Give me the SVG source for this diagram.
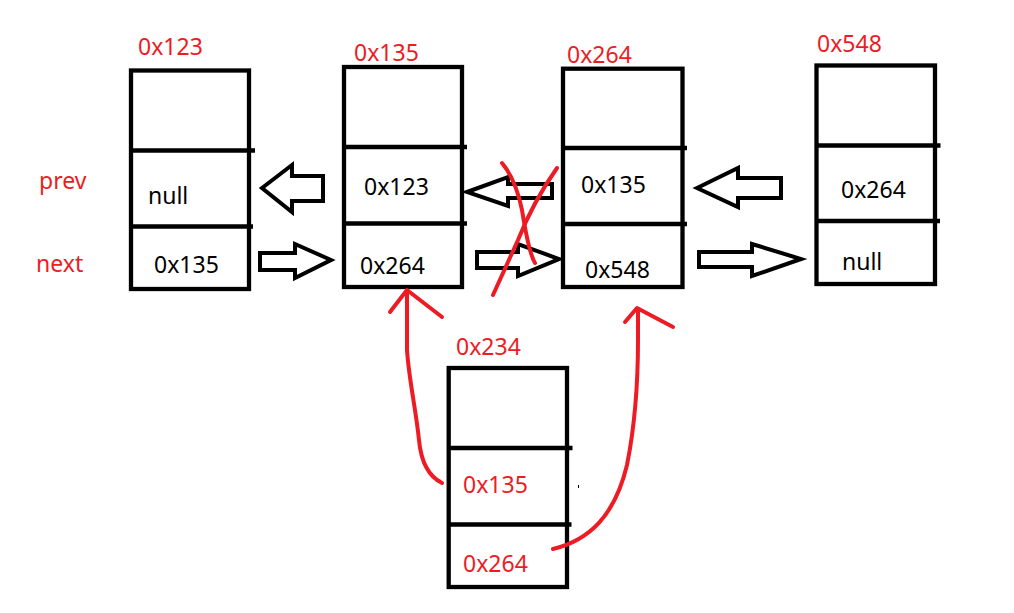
<svg xmlns="http://www.w3.org/2000/svg" width="1014" height="613" viewBox="0 0 1014 613">
<style>
.box{fill:none;stroke:#000;stroke-width:4.3}
.div{stroke:#000;stroke-width:4.3}
.t{font-family:"Noto Sans","Open Sans",sans-serif;font-size:23px;fill:#000}
.r{font-family:"Noto Sans","Open Sans",sans-serif;font-size:23px;fill:#ED1C24}
.ar{fill:#fff;stroke:#000;stroke-width:4;stroke-linejoin:miter}
.red{fill:none;stroke:#ED1C24;stroke-width:4;stroke-linecap:round;stroke-linejoin:round}
</style>
<rect width="1014" height="613" fill="#fff"/>
<text class="r" x="39" y="189">prev</text>
<text class="r" x="36" y="272">next</text>
<g id="node-0x123">
<rect class="box" x="131" y="70.5" width="118" height="218.5"/>
<line class="div" x1="131" y1="150.5" x2="255" y2="150.5"/>
<line class="div" x1="131" y1="226.5" x2="253" y2="226.5"/>
<text class="r" x="138" y="55">0x123</text>
<text class="t" x="148" y="204">null</text>
<text class="t" x="154" y="273">0x135</text>
</g>
<g id="node-0x135">
<rect class="box" x="344" y="67" width="118" height="220"/>
<line class="div" x1="344" y1="147" x2="467" y2="147"/>
<line class="div" x1="344" y1="223.5" x2="467" y2="223.5"/>
<text class="r" x="354" y="61">0x135</text>
<text class="t" x="364" y="195">0x123</text>
<text class="t" x="360" y="274">0x264</text>
</g>
<g id="node-0x264">
<rect class="box" x="563" y="68.7" width="119.5" height="218.3"/>
<line class="div" x1="563" y1="148" x2="687" y2="148"/>
<line class="div" x1="563" y1="224" x2="687" y2="224"/>
<text class="r" x="567" y="63">0x264</text>
<text class="t" x="581" y="193">0x135</text>
<text class="t" x="585" y="278">0x548</text>
</g>
<g id="node-0x548">
<rect class="box" x="816.5" y="65.5" width="118.5" height="218.5"/>
<line class="div" x1="816.5" y1="145.5" x2="940.5" y2="145.5"/>
<line class="div" x1="816.5" y1="221" x2="940" y2="221"/>
<text class="r" x="817" y="52">0x548</text>
<text class="t" x="841" y="198">0x264</text>
<text class="t" x="842" y="270">null</text>
</g>
<g id="node-0x234">
<rect class="box" x="448.7" y="368" width="118.3" height="219"/>
<line class="div" x1="448.7" y1="448" x2="572.5" y2="448"/>
<line class="div" x1="448.7" y1="524.5" x2="571.5" y2="524.5"/>
<text class="r" x="456" y="355">0x234</text>
<text class="r" x="463" y="493">0x135</text>
<text class="r" x="463" y="572">0x264</text>
<rect x="578" y="485" width="1" height="3" fill="#000"/>
</g>
<g id="connectors">
<polygon class="ar" points="262,188 292,165 292,176 323,176 323,201 292,201 292,212"/>
<polygon class="ar" points="260,253 295,253 295,244 331,260 295,278 295,270 260,270"/>
<polygon class="ar" points="467,192 508,177 508,184 552,184 552,198 508,198 508,206"/>
<polygon class="ar" points="477,252 518,252 518,244 559,259 518,276 518,268 477,268"/>
<polygon class="ar" points="697,188 738,168 738,178 781,178 781,198 738,198 738,207"/>
<polygon class="ar" points="699,252 752,252 752,244 801,259 752,276 752,267 699,267"/>
<path class="red" d="M502,163 C512,175 518,190 522,210 C526,235 530,255 535,263"/>
<path class="red" d="M557,168 C545,185 530,210 518,240 C508,262 500,280 493,295"/>
<path class="red" d="M442,483 C428,476 421,462 419,440 C416,410 409,380 407,350 L407,292"/>
<path class="red" d="M390,312 L407,290 L442,317"/>
<path class="red" d="M553,549 C590,540 615,515 627,465 C636,420 638,380 638,340 L638,310"/>
<path class="red" d="M625,322 L637,308 L673,327"/>
</g>
</svg>
